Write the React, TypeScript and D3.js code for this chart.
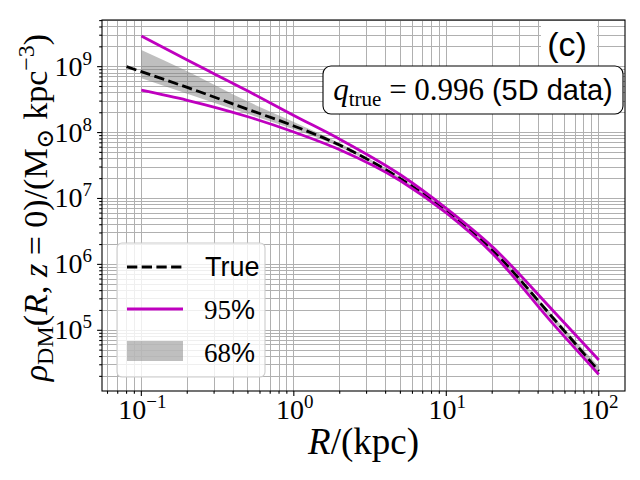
import { useEffect, useRef } from 'react';
import * as d3 from 'd3';

const radii = [0.1, 0.2, 0.5, 1, 2, 5, 10, 20, 50, 100];
const trueRadii = [0.08, 0.1, 0.2, 0.5, 1, 2, 5, 10, 20, 50, 100];
// densities in Msun / kpc^3
const trueDensity = [1.0e9, 8.4e8, 4.84e8, 2.25e8, 1.26e8, 6.46e7, 2.0e7, 6.6e6, 1.66e6, 1.55e5, 2.4e4];
const upper95 = [2.92e9, 1.26e9, 4.27e8, 1.82e8, 7.94e7, 2.29e7, 7.08e6, 1.86e6, 2.0e5, 3.55e4];
const lower95 = [4.39e8, 3.09e8, 1.74e8, 1.02e8, 5.5e7, 1.86e7, 6.03e6, 1.48e6, 1.26e5, 2.14e4];
const upper68 = [1.79e9, 8.5e8, 2.95e8, 1.45e8, 6.9e7, 2.09e7, 6.76e6, 1.74e6, 1.66e5, 2.82e4];
const lower68 = [6.67e8, 3.89e8, 1.91e8, 1.12e8, 6.03e7, 1.91e7, 6.17e6, 1.55e6, 1.38e5, 2.24e4];

const xTickExponents = [-1, 0, 1, 2];
const yTickExponents = [5, 6, 7, 8, 9];

const SERIF = '"Liberation Serif", "DejaVu Serif", serif';
const SANS = '"Liberation Sans", "DejaVu Sans", sans-serif';
const MAGENTA = '#bf00bf';
const GRID = '#b0b0b0';

export default function App() {
  const svgRef = useRef<SVGSVGElement>(null);

  useEffect(() => {
    if (!svgRef.current) return;
    const svg = d3.select(svgRef.current);
    svg.selectAll('*').remove();

    const left = 102, right = 625, top = 20, bottom = 391;

    const x = d3.scaleLog().domain([10 ** -1.258, 10 ** 2.172]).range([left, right]);
    const y = d3.scaleLog().domain([10 ** 4.079, 10 ** 9.708]).range([bottom, top]);

    svg.append('rect').attr('width', 640).attr('height', 480).attr('fill', 'white');

    // all decade + minor values inside a domain
    const logValues = (dom: number[]) => {
      const out: { v: number; major: boolean }[] = [];
      const lo = Math.floor(Math.log10(dom[0]));
      const hi = Math.ceil(Math.log10(dom[1]));
      for (let k = lo; k <= hi; k++) {
        for (let m = 1; m <= 9; m++) {
          const v = m * 10 ** k;
          if (v >= dom[0] && v <= dom[1]) out.push({ v, major: m === 1 });
        }
      }
      return out;
    };
    const xVals = logValues(x.domain());
    const yVals = logValues(y.domain());

    // grid (major + minor)
    const grid = svg.append('g')
      .attr('stroke', GRID)
      .attr('stroke-width', 1)
      .attr('shape-rendering', 'crispEdges');
    grid.selectAll('line.gx')
      .data(xVals)
      .join('line')
      .attr('x1', d => x(d.v)).attr('x2', d => x(d.v))
      .attr('y1', top).attr('y2', bottom);
    grid.selectAll('line.gy')
      .data(yVals)
      .join('line')
      .attr('class', 'gy')
      .attr('x1', left).attr('x2', right)
      .attr('y1', d => y(d.v)).attr('y2', d => y(d.v));

    // 68% band
    const band = d3.area<number>()
      .x((_, i) => x(radii[i]))
      .y0((_, i) => y(lower68[i]))
      .y1(d => y(d))
      .curve(d3.curveMonotoneX);
    svg.append('path')
      .attr('d', band(upper68))
      .attr('fill', '#808080')
      .attr('fill-opacity', 0.5);

    const line = d3.line<[number, number]>()
      .x(d => x(d[0]))
      .y(d => y(d[1]))
      .curve(d3.curveMonotoneX);

    svg.append('path')
      .attr('d', line(trueRadii.map((r, i) => [r, trueDensity[i]])))
      .attr('fill', 'none')
      .attr('stroke', 'black')
      .attr('stroke-width', 2.8)
      .attr('stroke-dasharray', '10.3,4.4');

    [upper95, lower95].forEach(series => {
      svg.append('path')
        .attr('d', line(radii.map((r, i) => [r, series[i]])))
        .attr('fill', 'none')
        .attr('stroke', MAGENTA)
        .attr('stroke-width', 2.8);
    });

    // ticks
    const ticks = svg.append('g').attr('stroke', 'black').attr('stroke-width', 1.1);
    ticks.selectAll('line.tx')
      .data(xVals)
      .join('line')
      .attr('class', 'tx')
      .attr('x1', d => x(d.v)).attr('x2', d => x(d.v))
      .attr('y1', bottom).attr('y2', d => bottom + (d.major ? 4.9 : 2.8));
    ticks.selectAll('line.ty')
      .data(yVals)
      .join('line')
      .attr('class', 'ty')
      .attr('y1', d => y(d.v)).attr('y2', d => y(d.v))
      .attr('x1', left).attr('x2', d => left - (d.major ? 4.9 : 2.8));

    // spines
    svg.append('rect')
      .attr('x', left).attr('y', top)
      .attr('width', right - left).attr('height', bottom - top)
      .attr('fill', 'none').attr('stroke', 'black').attr('stroke-width', 1.1);

    // tick labels
    const power = (sel: d3.Selection<SVGTextElement, number, SVGGElement, unknown>) => {
      sel.append('tspan').text('10');
      sel.append('tspan').attr('dy', -11).attr('font-size', 19)
        .text(d => (d < 0 ? '\u2212' + Math.abs(d) : String(d)));
    };
    const xLabels = svg.append('g')
      .attr('font-family', SERIF).attr('font-size', 28).attr('text-anchor', 'middle');
    xLabels.selectAll('text')
      .data(xTickExponents)
      .join('text')
      .attr('x', d => x(10 ** d) + 1)
      .attr('y', 419)
      .call(power as any);
    const yLabels = svg.append('g')
      .attr('font-family', SERIF).attr('font-size', 28).attr('text-anchor', 'end');
    yLabels.selectAll('text')
      .data(yTickExponents)
      .join('text')
      .attr('x', 92)
      .attr('y', d => y(10 ** d) + 9)
      .call(power as any);

    // axis labels
    const xl = svg.append('text')
      .attr('x', (left + right) / 2).attr('y', 454)
      .attr('text-anchor', 'middle')
      .attr('font-family', SERIF).attr('font-size', 37);
    xl.append('tspan').attr('font-style', 'italic').text('R');
    xl.append('tspan').text('/(kpc)');

    const yl = svg.append('text')
      .attr('transform', `translate(47,${(top + bottom) / 2 + 2}) rotate(-90)`)
      .attr('text-anchor', 'middle')
      .attr('font-family', SERIF).attr('font-size', 34);
    yl.append('tspan').attr('font-style', 'italic').text('\u03c1');
    yl.append('tspan').attr('font-size', 24).attr('dy', 6).text('DM');
    yl.append('tspan').attr('dy', -6).text('(');
    yl.append('tspan').attr('font-style', 'italic').text('R');
    yl.append('tspan').text(', ');
    yl.append('tspan').attr('font-style', 'italic').text('z');
    yl.append('tspan').text(' = 0)/(M');
    yl.append('tspan').attr('font-size', 24).attr('dy', 6).text('\u2299');
    yl.append('tspan').attr('dy', -6).text(' kpc');
    yl.append('tspan').attr('font-size', 24).attr('dy', -13).text('\u22123');
    yl.append('tspan').attr('dy', 13).text(')');

    // panel tag "(c)"
    svg.append('rect')
      .attr('x', 541).attr('y', 21).attr('width', 56).attr('height', 45)
      .attr('fill', 'white');
    svg.append('text')
      .attr('x', 567).attr('y', 56)
      .attr('text-anchor', 'middle')
      .attr('font-family', SANS).attr('font-size', 34)
      .text('(c)');

    // annotation box
    svg.append('rect')
      .attr('x', 323).attr('y', 66).attr('width', 300).attr('height', 48)
      .attr('rx', 8)
      .attr('fill', 'white').attr('stroke', 'black').attr('stroke-width', 1.1);
    const ann = svg.append('text')
      .attr('x', 473).attr('y', 100)
      .attr('text-anchor', 'middle')
      .attr('font-family', SERIF).attr('font-size', 31);
    ann.append('tspan').attr('font-style', 'italic').text('q');
    ann.append('tspan').attr('font-size', 21).attr('dy', 6).text('true');
    ann.append('tspan').attr('dy', -6).text('\u2005=\u20050.996\u2005');
    ann.append('tspan').attr('font-family', SANS).attr('font-size', 29).text('(5D data)');

    // legend
    const lg = svg.append('g');
    lg.append('rect')
      .attr('x', 117).attr('y', 243).attr('width', 148).attr('height', 134)
      .attr('rx', 5)
      .attr('fill', 'white').attr('fill-opacity', 0.8)
      .attr('stroke', '#cccccc').attr('stroke-width', 1.1);
    lg.append('line')
      .attr('x1', 127).attr('x2', 183).attr('y1', 267).attr('y2', 267)
      .attr('stroke', 'black').attr('stroke-width', 2.8).attr('stroke-dasharray', '10.3,4.4');
    lg.append('line')
      .attr('x1', 127).attr('x2', 183).attr('y1', 309).attr('y2', 309)
      .attr('stroke', MAGENTA).attr('stroke-width', 2.8);
    lg.append('rect')
      .attr('x', 127).attr('y', 341).attr('width', 56).attr('height', 20)
      .attr('fill', '#808080').attr('fill-opacity', 0.5);
    const lt = lg.append('g').attr('font-size', 27);
    lt.append('text').attr('x', 205).attr('y', 276).attr('font-family', SANS).text('True');
    const t95 = lt.append('text').attr('x', 204).attr('y', 319).attr('font-family', SERIF);
    t95.append('tspan').text('95');
    t95.append('tspan').attr('font-family', SANS).text('%');
    const t68 = lt.append('text').attr('x', 204).attr('y', 362).attr('font-family', SERIF);
    t68.append('tspan').text('68');
    t68.append('tspan').attr('font-family', SANS).text('%');
  }, []);

  return (
    <svg
      ref={svgRef}
      width={640}
      height={480}
      style={{ position: 'absolute', left: 0, top: 0, background: 'white' }}
    />
  );
}
